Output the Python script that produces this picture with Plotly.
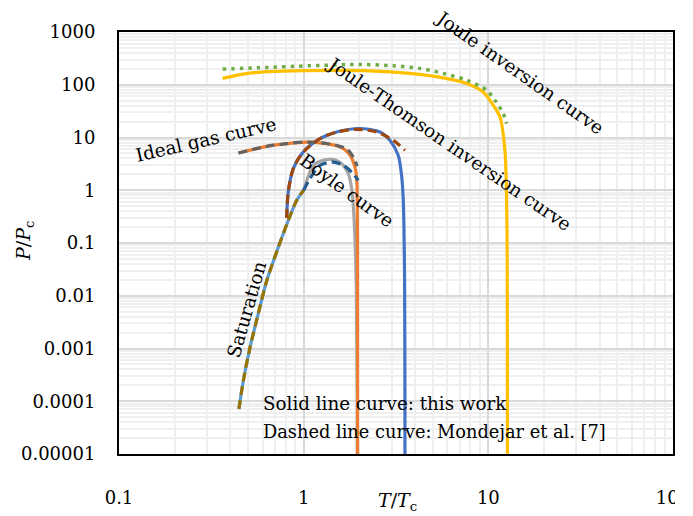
import plotly.graph_objects as go

# ---------------- data ----------------
sat_T = [0.446, 0.471, 0.512, 0.567, 0.631, 0.729, 0.825, 0.916, 1.0]
sat_P = [7.1e-5, 2.42e-4, 1.04e-3, 4.5e-3, 0.0193, 0.0828, 0.267, 0.64, 1.0]

ideal_T = [0.443, 0.631, 0.809, 1.038, 1.332, 1.572, 1.70, 1.80, 1.87, 1.92, 1.945, 1.953, 1.956, 1.957]
ideal_P = [5.07, 6.8, 7.65, 8.2, 7.65, 6.6, 5.6, 4.4, 3.2, 2.2, 1.2, 0.4, 0.05, 1e-6]
ideal_ref_T = [0.443, 0.631, 0.809, 1.038, 1.332, 1.572, 1.71, 1.856, 1.95]
ideal_ref_P = [5.07, 6.8, 7.65, 8.2, 7.7, 6.8, 6.15, 4.26, 2.87]

boyle_T = [1.0, 1.127, 1.225, 1.418, 1.606, 1.744, 1.82, 1.856, 1.90, 1.93, 1.95, 1.955]
boyle_P = [1.0, 2.96, 3.53, 3.85, 3.19, 2.06, 1.07, 0.514, 0.1, 0.01, 1e-4, 1e-6]
boyle_ref_T = [1.0, 1.081, 1.225, 1.446, 1.639, 1.82, 1.975]
boyle_ref_P = [1.0, 1.65, 2.96, 3.42, 2.96, 2.21, 1.54]

jt_T = [0.809, 0.825, 0.878, 0.995, 1.225, 1.509, 2.018, 2.59, 2.93, 3.25, 3.39, 3.46, 3.49, 3.52, 3.535, 3.537]
jt_P = [0.30, 0.92, 2.56, 5.3, 9.5, 12.7, 14.8, 12.7, 8.85, 4.59, 1.91, 0.69, 0.214, 0.02, 1e-4, 1e-6]
jt_ref_T = [0.809, 0.825, 0.878, 0.995, 1.225, 1.509, 1.936, 2.484, 3.055, 3.537]
jt_ref_P = [0.30, 0.92, 2.56, 5.3, 9.5, 12.7, 14.3, 12.7, 8.85, 5.7]

joule_T = [0.364, 0.471, 0.603, 0.879, 2.286, 3.763, 5.70, 7.63, 9.38, 10.63, 11.56, 12.30, 12.56, 12.65, 12.69, 12.70]
joule_P = [132, 159, 176, 184, 184, 164, 135, 106, 73, 41, 24.5, 5.7, 0.64, 0.05, 1e-4, 1e-6]
joule_ref_T = [0.364, 0.580, 1.081, 2.018, 3.055, 4.264, 5.70, 7.63, 9.79, 10.86, 12.04, 12.56]
joule_ref_P = [198, 210, 229, 243, 229, 204, 164, 122, 79, 51, 28.5, 18.4]

x_tickvals = [0.1, 1, 10, 100]
x_ticktext = ["0.1", "1", "10", "100"]
y_tickvals = [1e-5, 1e-4, 1e-3, 1e-2, 1e-1, 1, 10, 100, 1000]
y_ticktext = ["0.00001", "0.0001", "0.001", "0.01", "0.1", "1", "10", "100", "1000"]

FONT = "DejaVu Serif"
DASH = "9px,5px"

fig = go.Figure()

def add(x, y, color, dash="solid", width=3.2):
    fig.add_trace(go.Scatter(x=x, y=y, mode="lines",
                             line=dict(color=color, width=width, dash=dash,
                                       shape="spline", smoothing=0.8),
                             hoverinfo="skip", showlegend=False))

# solid lines: this work
add(boyle_T, boyle_P, "#A5A5A5")
add(ideal_T, ideal_P, "#ED7D31")
add(jt_T, jt_P, "#4472C4")
add(joule_T, joule_P, "#FFC000")
add(sat_T, sat_P, "#5B9BD5")
# dashed lines: Mondejar et al.
add(sat_T, sat_P, "#997300", DASH)
add(boyle_ref_T, boyle_ref_P, "#255E91", DASH)
add(ideal_ref_T, ideal_ref_P, "#636363", DASH)
add(jt_ref_T, jt_ref_P, "#9E480E", DASH)
add(joule_ref_T, joule_ref_P, "#70AD47", "3.5px,5px", 3.5)

# plot area in pixels
L, R, T, B = 119, 673, 32, 454

def px(xp, yp):
    return (xp - L) / (R - L), (B - yp) / (B - T)

def label(text, xp, yp, angle=0, anchor="center", size=18.5):
    x, y = px(xp, yp)
    fig.add_annotation(x=x, y=y, xref="paper", yref="paper", text=text,
                       showarrow=False, textangle=angle, xanchor=anchor,
                       yanchor="middle", font=dict(family=FONT, size=size, color="black"))

label("Joule inversion curve", 520, 72, 35)
label("Joule-Thomson inversion curve", 449, 143, 34.5)
label("Ideal gas curve", 206, 139, -13)
label("Boyle curve", 347, 190, 36)
label("Saturation", 246, 310, -74)
label("Solid line curve: this work", 261, 403, 0, "left", 18.3)
label("Dashed line curve: Mondejar et al. [7]", 261, 431, 0, "left", 17.8)

# axis titles
label("<i>T</i>/<i>T</i><sub>c</sub>", 397, 501, 0, "center", 19)
label("<i>P</i>/<i>P</i><sub>c</sub>", 25, 241, -90, "center", 19)

axis_common = dict(type="log", showline=True, linecolor="black", linewidth=2, mirror=True,
                   showgrid=True, gridcolor="#D9D9D9", gridwidth=1.5,
                   ticks="", zeroline=False, automargin=False,
                   tickfont=dict(family=FONT, size=18, color="black"),
                   minor=dict(dtick="D1", showgrid=True, gridcolor="#EFEFEF", gridwidth=1.5, ticks=""))

fig.update_xaxes(range=[-1, 2], tickvals=x_tickvals, ticktext=x_ticktext,
                 ticklabelstandoff=26, **axis_common)
fig.update_yaxes(range=[-5, 3], tickvals=y_tickvals, ticktext=y_ticktext,
                 ticklabelstandoff=18, **axis_common)

# cropped right edge of the original image
fig.add_shape(type="rect", xref="paper", yref="paper", x0=(675 - L) / (R - L), x1=1.2,
              y0=-0.5, y1=1.2, fillcolor="white", line=dict(width=0), layer="above")

fig.update_layout(width=693, height=516,
                  margin=dict(l=L, r=693 - R, t=T, b=516 - B, autoexpand=False),
                  plot_bgcolor="white", paper_bgcolor="white",
                  font=dict(family=FONT, color="black"))

fig.write_html("out.html", config={"displayModeBar": False},
               post_script="document.body.style.margin='0';document.body.style.overflow='hidden';")
